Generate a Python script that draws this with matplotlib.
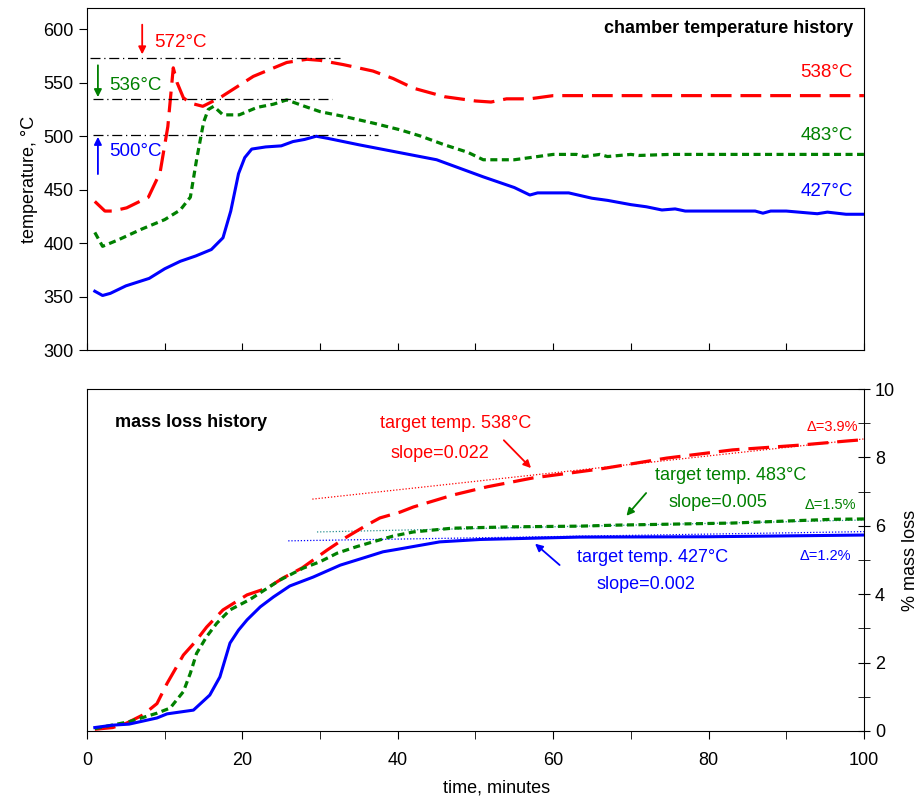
import matplotlib
matplotlib.use("Agg")
import matplotlib.pyplot as plt
from matplotlib.ticker import MultipleLocator

plt.rcParams['font.family'] = ['Liberation Sans', 'DejaVu Sans']
plt.rcParams['font.size'] = 13

RED, GREEN, BLUE = '#ff0000', '#008000', '#0000ff'

# chamber temperature, deg C vs minutes
t_538 = [1, 2.3, 3.3, 5.1, 7.9, 9.4, 10.4, 11.1, 11.6, 12.4, 13.3, 14.9, 17.1, 21.4, 25.7,
         28.3, 30, 33, 36.8, 39.4, 42, 46, 50, 52, 54, 57, 60, 63, 100]
temp_538 = [439, 430, 430, 433, 443, 466, 509, 564, 550, 536, 531, 528, 536, 556, 569,
            572, 571, 567, 561, 554, 545, 537, 533, 532, 535, 535, 538, 538, 538]

t_483 = [1, 2, 4, 7, 10, 12, 13.3, 14.1, 15, 15.6, 16.3, 17.5, 19.6, 21.9, 24, 25.7, 28,
         30, 33.4, 37, 40.3, 43, 46, 49, 51, 55, 57, 60, 63, 64, 66, 67, 70, 71, 75, 100]
temp_483 = [410, 397, 403, 413, 422, 431, 443, 478, 513, 525, 528, 520, 520, 527, 530, 534, 528,
            523, 518, 512, 506, 500, 492, 485, 478, 478, 480, 483, 483, 481, 483, 481, 483, 482, 483, 483]

t_427 = [1, 2, 3, 5, 8, 10, 12, 14, 16, 17.5, 18.5, 19.5, 20.3, 21.2, 23, 25, 26.5, 28, 29.5,
         31, 35, 40, 45, 48, 51, 53, 55, 57, 58, 62, 65, 67, 70, 72, 74, 75.7, 77, 80, 86,
         87, 88, 90, 94, 95.3, 97.7, 100]
temp_427 = [355, 351, 353, 360, 367, 376, 383, 388, 394, 405, 430, 465, 480, 488, 490, 491, 495, 497, 500,
            498, 492, 485, 478, 470, 462, 457, 452, 445, 447, 447, 442, 440, 436, 434, 431, 432, 430, 430, 430,
            428, 430, 430, 427.5, 429, 427, 427]

# peak markers (dash-dot) and their labels
peak_vals = [573, 535, 501]
peak_x0 = [0.4, 0.8, 0.8]
peak_x1 = [32.5, 31.5, 37.5]
peak_labels = ['572°C', '536°C', '500°C']
final_labels = ['538°C', '483°C', '427°C']

# mass loss, % vs minutes
t_ml_538 = [1, 3.3, 5.1, 7.2, 9, 10.3, 12.4, 13.9, 15.4, 17.5, 20.6, 23.2, 25.2, 27.7, 30.9,
            33.4, 36, 37.7, 40.3, 42, 47.1, 51.5, 57.4, 66, 74.6, 83.1, 91.8, 97.8, 100]
ml_538 = [0.05, 0.1, 0.23, 0.47, 0.8, 1.39, 2.22, 2.6, 3.04, 3.54, 3.98, 4.18, 4.47, 4.77, 5.29,
          5.67, 6.02, 6.23, 6.4, 6.55, 6.9, 7.14, 7.4, 7.66, 7.98, 8.22, 8.36, 8.48, 8.52]

t_ml_483 = [1, 5.4, 9, 10.7, 12.4, 13.3, 14.1, 15.4, 16.7, 18.4, 21, 24.8, 27.8, 30, 32.2,
            34.7, 36.8, 39.4, 42, 47, 54.8, 63.4, 68.2, 83, 96, 100]
ml_483 = [0.07, 0.27, 0.52, 0.67, 1.15, 1.69, 2.27, 2.76, 3.15, 3.54, 3.85, 4.41, 4.76, 4.95, 5.2,
          5.39, 5.53, 5.7, 5.82, 5.93, 5.97, 5.99, 6.02, 6.08, 6.19, 6.2]

t_ml_427 = [1, 3.3, 5.4, 9, 10.3, 13.7, 15.8, 17.1, 18.4, 19.5, 20.6, 22.3, 24, 26.1, 29.1,
            32.6, 36, 38.1, 39.9, 45.4, 50.6, 63.4, 80, 100]
ml_427 = [0.1, 0.17, 0.2, 0.38, 0.5, 0.61, 1.05, 1.58, 2.57, 2.95, 3.25, 3.63, 3.92, 4.24, 4.5,
          4.85, 5.09, 5.24, 5.31, 5.53, 5.6, 5.67, 5.68, 5.73]

# linear fits over the plateau
fit_538_x, fit_538_y = [29, 100], [6.78, 8.54]
fit_483_x, fit_483_y = [29.6, 100], [5.82, 6.17]
fit_427_x, fit_427_y = [25.9, 100], [5.56, 5.83]

fig = plt.figure(figsize=(9.22, 7.98), dpi=100)
ax1 = fig.add_axes([0.0944, 0.5614, 0.8426, 0.4286])
ax2 = fig.add_axes([0.0944, 0.084, 0.8426, 0.4285])

red_ls = (0, (6.5, 2.8))
green_ls = (0, (2.2, 1.4))

# ---- top: chamber temperature
ax1.plot(t_538, temp_538, color=RED, lw=2.3, ls=red_ls)
ax1.plot(t_483, temp_483, color=GREEN, lw=2.3, ls=green_ls)
ax1.plot(t_427, temp_427, color=BLUE, lw=2.2)
for v, a, b in zip(peak_vals, peak_x0, peak_x1):
    ax1.plot([a, b], [v, v], color='black', lw=0.9, ls=(0, (8, 3, 1, 3)))

ax1.set_xlim(0, 100)
ax1.set_ylim(300, 620)
ax1.set_yticks(range(300, 601, 50))
ax1.xaxis.set_major_locator(MultipleLocator(10))
ax1.tick_params(axis='x', direction='in', length=5, labelbottom=False)
ax1.tick_params(axis='y', direction='out', length=6)
ax1.set_ylabel('temperature, °C', fontsize=13)

ax1.annotate('', xy=(7.1, 574), xytext=(7.1, 607),
             arrowprops=dict(arrowstyle='-|>', color=RED, lw=1.3, mutation_scale=11))
ax1.annotate('', xy=(1.4, 534), xytext=(1.4, 569),
             arrowprops=dict(arrowstyle='-|>', color=GREEN, lw=1.3, mutation_scale=11))
ax1.annotate('', xy=(1.4, 502), xytext=(1.4, 462),
             arrowprops=dict(arrowstyle='-|>', color=BLUE, lw=1.3, mutation_scale=11))
ax1.text(8.7, 588, peak_labels[0], color=RED, va='center', fontsize=13.5)
ax1.text(2.9, 547.5, peak_labels[1], color=GREEN, va='center', fontsize=13.5)
ax1.text(2.9, 486, peak_labels[2], color=BLUE, va='center', fontsize=13.5)

ax1.text(98.6, 601, 'chamber temperature history', ha='right', va='center',
         fontsize=13, fontweight='bold')
ax1.text(98.6, 560, final_labels[0], color=RED, ha='right', va='center', fontsize=13.5)
ax1.text(98.6, 500.5, final_labels[1], color=GREEN, ha='right', va='center', fontsize=13.5)
ax1.text(98.6, 448, final_labels[2], color=BLUE, ha='right', va='center', fontsize=13.5)

# ---- bottom: mass loss
ax2.plot(fit_538_x, fit_538_y, color=RED, lw=0.9, ls=(0, (1, 1.5)))
ax2.plot(fit_483_x, fit_483_y, color='#2a9090', lw=0.9, ls=(0, (1, 1.5)))
ax2.plot(fit_427_x, fit_427_y, color=BLUE, lw=0.9, ls=(0, (1, 1.5)))
ax2.plot(t_ml_538, ml_538, color=RED, lw=2.3, ls=red_ls)
ax2.plot(t_ml_483, ml_483, color=GREEN, lw=2.3, ls=green_ls)
ax2.plot(t_ml_427, ml_427, color=BLUE, lw=2.2)

ax2.set_xlim(0, 100)
ax2.set_ylim(0, 10)
ax2.xaxis.set_major_locator(MultipleLocator(20))
ax2.xaxis.set_minor_locator(MultipleLocator(10))
ax2.tick_params(axis='x', which='both', direction='out', length=6, pad=9)
ax2.yaxis.tick_right()
ax2.yaxis.set_label_position('right')
ax2.yaxis.set_major_locator(MultipleLocator(2))
ax2.yaxis.set_minor_locator(MultipleLocator(1))
ax2.tick_params(axis='y', which='both', direction='inout', length=9, right=True, left=False)
ax2.set_xlabel('time, minutes', fontsize=13, labelpad=8, x=0.527)
ax2.set_ylabel('% mass loss', fontsize=13, labelpad=5)

ax2.text(3.6, 9.03, 'mass loss history', fontsize=13, fontweight='bold', va='center')

ax2.text(47.4, 9.0, 'target temp. 538°C', color=RED, ha='center', va='center')
ax2.text(45.4, 8.1, 'slope=0.022', color=RED, ha='center', va='center')
ax2.annotate('', xy=(57.4, 7.63), xytext=(53.4, 8.56),
             arrowprops=dict(arrowstyle='-|>', color=RED, lw=1.3, mutation_scale=11))

ax2.text(82.8, 7.46, 'target temp. 483°C', color=GREEN, ha='center', va='center')
ax2.text(81.2, 6.67, 'slope=0.005', color=GREEN, ha='center', va='center')
ax2.annotate('', xy=(69.2, 6.23), xytext=(72.2, 7.02),
             arrowprops=dict(arrowstyle='-|>', color=GREEN, lw=1.3, mutation_scale=11))

ax2.text(72.8, 5.06, 'target temp. 427°C', color=BLUE, ha='center', va='center')
ax2.text(72.0, 4.27, 'slope=0.002', color=BLUE, ha='center', va='center')
ax2.annotate('', xy=(57.4, 5.53), xytext=(61.1, 4.8),
             arrowprops=dict(arrowstyle='-|>', color=BLUE, lw=1.3, mutation_scale=11))

ax2.text(99.2, 8.89, 'Δ=3.9%', color=RED, ha='right', va='center', fontsize=10.5)
ax2.text(99.0, 6.6, 'Δ=1.5%', color=GREEN, ha='right', va='center', fontsize=10.5)
ax2.text(98.4, 5.12, 'Δ=1.2%', color=BLUE, ha='right', va='center', fontsize=10.5)

fig.savefig('out.png', dpi=100)
